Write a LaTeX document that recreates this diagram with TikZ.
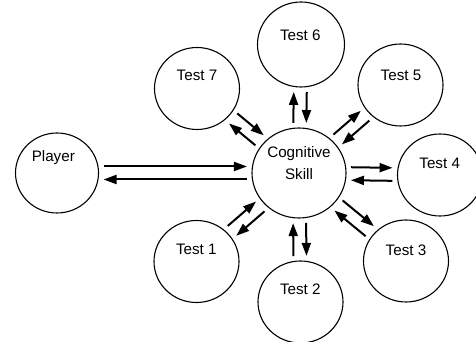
\documentclass[tikz,border=0pt]{standalone}
\usepackage{fontspec}
\setmainfont{Liberation Sans}
\usetikzlibrary{arrows.meta,calc,shapes.geometric}

% one arrow of a pair, moved to the left of its own direction
\newcommand{\flowarrow}[2]{%
	\draw[flow, transform canvas={shift={($(#1)!6.5pt!90:(#2)-(#1)$)}}] (#1) -- (#2);}

\begin{document}
\begin{tikzpicture}[x=1pt, y=1pt,
	font=\fontsize{15.2}{22.7}\selectfont,
	bubble/.style={draw, ellipse, line width=1.1pt, minimum width=85pt, minimum height=82pt, inner sep=0pt},
	lbl/.style={inner sep=0pt, text depth=0pt},
	flow/.style={line width=2pt, -{Triangle[length=13pt,width=9pt]}, shorten >=4.5pt, shorten <=4.5pt}]
	\useasboundingbox (0,0) rectangle (476,342);

	% Draw circles
	\node[bubble, minimum width=83pt, minimum height=80pt] (player) at (57,169) {};
	\node[bubble, minimum width=94pt, minimum height=90pt] (cog) at (299,169) {};
	\node[bubble, minimum width=87pt, minimum height=85pt] (t6) at (301,297.5) {};
	\node[bubble] (t7) at (197,253.5) {};
	\node[bubble] (t5) at (400.5,257) {};
	\node[bubble] (t4) at (440,167) {};
	\node[bubble] (t3) at (406,81) {};
	\node[bubble] (t2) at (300.5,40) {};
	\node[bubble] (t1) at (196.5,80.5) {};

	% Texts
	\node[lbl] (playertext) at (53.3,186) {Player};
	\node[align=center, inner sep=0pt] (cogtext) at (299,179) {Cognitive\\Skill};
	\node[lbl] (t6text) at (300.3,307) {Test 6};
	\node[lbl] (t7text) at (197,267) {Test 7};
	\node[lbl] (t5text) at (401,267) {Test 5};
	\node[lbl] (t4text) at (439.7,179) {Test 4};
	\node[lbl] (t3text) at (406,92) {Test 3};
	\node[lbl] (t2text) at (300.3,53) {Test 2};
	\node[lbl] (t1text) at (196.3,93) {Test 1};

	% Arrow pairs
	\flowarrow{player}{cog}
	\flowarrow{cog}{player}
	\flowarrow{cog}{t6}
	\flowarrow{t6}{cog}
	\flowarrow{cog}{t7}
	\flowarrow{t7}{cog}
	\flowarrow{cog}{t5}
	\flowarrow{t5}{cog}
	\flowarrow{cog}{t4}
	\flowarrow{t4}{cog}
	\flowarrow{cog}{t3}
	\flowarrow{t3}{cog}
	\flowarrow{cog}{t2}
	\flowarrow{t2}{cog}
	\flowarrow{cog}{t1}
	\flowarrow{t1}{cog}

\end{tikzpicture}
\end{document}
